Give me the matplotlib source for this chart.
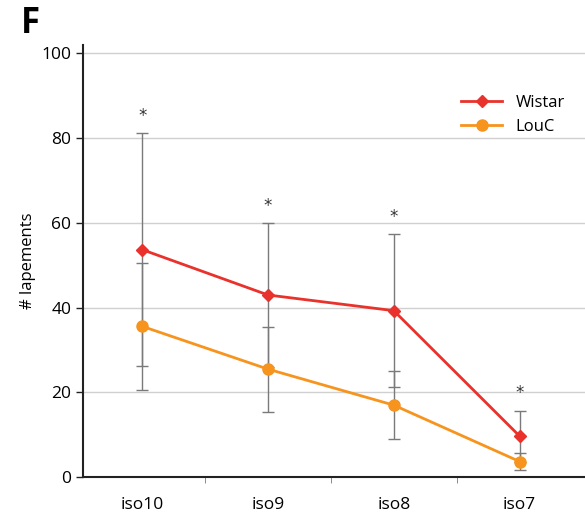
import matplotlib
matplotlib.use("Agg")
import matplotlib.pyplot as plt
import numpy as np

categories = ["iso10", "iso9", "iso8", "iso7"]
wistar = [53.7, 43.0, 39.3, 9.7]
wistar_err = [27.5, 17.0, 18.0, 6.0]
louc = [35.6, 25.5, 17.0, 3.7]
louc_err = [15.0, 10.0, 8.0, 2.1]
y_ticks = [0, 20, 40, 60, 80, 100]

plt.rcParams['font.family'] = ['Open Sans', 'DejaVu Sans']

fig = plt.figure(figsize=(5.85, 5.17), dpi=100)
ax = fig.add_axes([0.142, 0.077, 0.858, 0.836])

x = np.arange(len(categories))
red = "#E8322B"
orange = "#F7941E"
gray = "#7a7a7a"

ax.errorbar(x, wistar, yerr=wistar_err, fmt='none', ecolor=gray, elinewidth=1, capsize=4.5, capthick=1, zorder=2)
ax.errorbar(x, louc, yerr=louc_err, fmt='none', ecolor=gray, elinewidth=1, capsize=4.5, capthick=1, zorder=2)
ax.plot(x, wistar, color=red, marker='D', markersize=6, lw=2, label="Wistar", zorder=3)
ax.plot(x, louc, color=orange, marker='o', markersize=8, lw=2, label="LouC", zorder=3)

for xi, m, e in zip(x, wistar, wistar_err):
    ax.annotate("*", (xi, m + e), xytext=(0, 6), textcoords='offset points',
                ha='center', va='bottom', fontsize=12, color='#333333',
                family='DejaVu Sans')

ax.set_xlim(-0.47, 3.52)
ax.set_ylim(0, 102)
ax.set_yticks(y_ticks)
ax.set_xticks(x)
ax.set_xticklabels(categories, fontsize=12.5)
ax.set_xticks([0.5, 1.5, 2.5], minor=True)
ax.tick_params(axis='x', which='major', length=0, pad=14)
ax.tick_params(axis='x', which='minor', length=4, color=gray, direction='out')
ax.tick_params(axis='y', length=5, width=1, labelsize=12.5, color='#222222')
ax.yaxis.grid(True, color='#d0d0d0', lw=1)
ax.set_axisbelow(True)
for s in ['top', 'right']:
    ax.spines[s].set_visible(False)
ax.spines['left'].set_linewidth(1.5)
ax.spines['bottom'].set_linewidth(1.5)
ax.spines['left'].set_color('#222222')
ax.spines['bottom'].set_color('#222222')
ax.set_ylabel("# lapements", fontsize=12, labelpad=4)

ax.legend(loc='upper right', bbox_to_anchor=(0.99, 0.92), frameon=False, fontsize=12,
          handlelength=2.5, labelspacing=0.5)

fig.text(0.035, 0.953, "F", fontsize=25, fontweight='bold', ha='left', va='center')

fig.savefig("out.png", dpi=100)
